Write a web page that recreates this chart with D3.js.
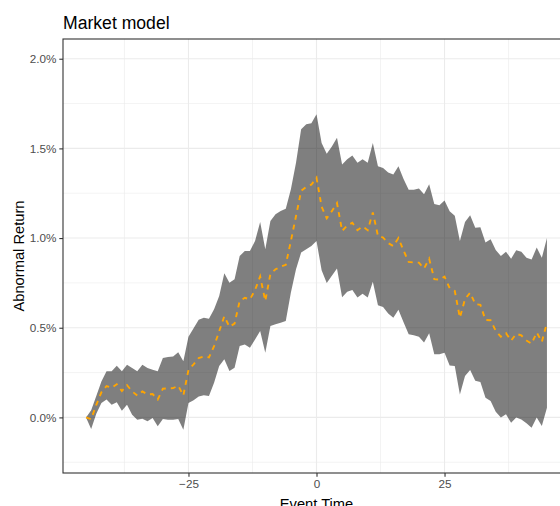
<!DOCTYPE html>
<html>
<head>
<meta charset="utf-8">
<script src="https://cdn.jsdelivr.net/npm/d3@7"></script>
<style>
  body { margin: 0; background: #fff; }
  svg { display: block; font-family: "Liberation Sans", Arial, sans-serif; }
</style>
</head>
<body>
<div id="chart"></div>
<script>
// event window, days relative to the event
const eventTime = [
  -45, -44, -43, -42, -41, -40, -39, -38, -37, -36, -35, -34, -33, -32, -31,
  -30, -29, -28, -27, -26, -25, -24, -23, -22, -21, -20, -19, -18, -17, -16,
  -15, -14, -13, -12, -11, -10, -9, -8, -7, -6, -5, -4, -3, -2, -1,
  0, 1, 2, 3, 4, 5, 6, 7, 8, 9, 10, 11, 12, 13, 14,
  15, 16, 17, 18, 19, 20, 21, 22, 23, 24, 25, 26, 27, 28, 29,
  30, 31, 32, 33, 34, 35, 36, 37, 38, 39, 40, 41, 42, 43, 44, 45
];

// cumulative abnormal return (%)
const carMean = [
  0.0, -0.01, 0.07, 0.14, 0.175, 0.165, 0.185, 0.147, 0.18, 0.145, 0.122, 0.145, 0.128, 0.13, 0.10,
  0.16, 0.162, 0.163, 0.177, 0.122, 0.265, 0.296, 0.331, 0.34, 0.334, 0.398, 0.48, 0.564, 0.505, 0.523,
  0.649, 0.667, 0.658, 0.71, 0.786, 0.649, 0.80, 0.826, 0.84, 0.851, 0.984, 1.123, 1.263, 1.286, 1.298,
  1.337, 1.175, 1.11, 1.15, 1.195, 1.04, 1.07, 1.085, 1.044, 1.065, 1.044, 1.143, 1.012, 1.003, 0.972,
  0.955, 1.0, 0.93, 0.867, 0.864, 0.863, 0.83, 0.885, 0.771, 0.768, 0.785, 0.72, 0.705, 0.556, 0.66,
  0.695, 0.632, 0.628, 0.543, 0.542, 0.483, 0.45, 0.47, 0.428, 0.466, 0.457, 0.429, 0.411, 0.474, 0.421, 0.527
];

// confidence band (%)
const ciLower = [
  0.0, -0.065, 0.02, 0.08, 0.10, 0.07, 0.084, 0.037, 0.07, 0.015, -0.013, -0.007, -0.022, -0.004, -0.05,
  -0.009, -0.013, -0.013, -0.009, -0.069, 0.08, 0.095, 0.117, 0.123, 0.119, 0.193, 0.286, 0.324, 0.259, 0.277,
  0.398, 0.407, 0.389, 0.435, 0.482, 0.361, 0.51, 0.519, 0.528, 0.538, 0.696, 0.826, 0.919, 0.9375, 0.956,
  0.984, 0.82, 0.75, 0.79, 0.83, 0.67, 0.70, 0.71, 0.668, 0.69, 0.668, 0.757, 0.625, 0.616, 0.58,
  0.556, 0.60, 0.53, 0.463, 0.458, 0.45, 0.417, 0.469, 0.352, 0.352, 0.361, 0.29, 0.286, 0.128, 0.231,
  0.264, 0.205, 0.197, 0.11, 0.091, 0.032, 0.0, 0.017, -0.03, 0.0, -0.011, -0.033, -0.058, 0.0, -0.048, 0.054
];

const ciUpper = [
  0.0, 0.04, 0.12, 0.20, 0.257, 0.257, 0.288, 0.257, 0.294, 0.275, 0.257, 0.294, 0.275, 0.266, 0.257,
  0.331, 0.337, 0.34, 0.363, 0.313, 0.45, 0.497, 0.545, 0.556, 0.55, 0.603, 0.677, 0.804, 0.751, 0.77,
  0.90, 0.928, 0.928, 0.984, 1.09, 0.9375, 1.095, 1.133, 1.151, 1.164, 1.272, 1.42, 1.607, 1.635, 1.64,
  1.69, 1.53, 1.47, 1.51, 1.56, 1.41, 1.44, 1.46, 1.42, 1.44, 1.42, 1.53, 1.40, 1.39, 1.365,
  1.355, 1.40, 1.33, 1.27, 1.27, 1.276, 1.244, 1.30, 1.19, 1.183, 1.21, 1.15, 1.124, 0.984, 1.09,
  1.127, 1.058, 1.06, 0.975, 0.993, 0.934, 0.90, 0.924, 0.885, 0.932, 0.924, 0.89, 0.88, 0.947, 0.89, 1.00
];

const xTicks = [-25, 0, 25];
const xMinor = [-37.5, -12.5, 12.5, 37.5];
const yTicks = [0, 0.5, 1, 1.5, 2];
const yMinor = [-0.25, 0.25, 0.75, 1.25, 1.75];

const width = 560;
const height = 506;
// panel runs past the right edge of the window, like the reference crop
const margin = { top: 39, right: -10, bottom: 33, left: 63 };

const svg = d3
  .select("#chart")
  .append("svg")
  .attr("width", width)
  .attr("height", height);

// ggplot style 5% expansion around the limits
const x = d3
  .scaleLinear()
  .domain([-45 - 4.5, 45 + 4.5])
  .range([margin.left, width - margin.right]);

const y = d3
  .scaleLinear()
  .domain([-0.2 - 0.11, 2.0 + 0.11])
  .range([height - margin.bottom, margin.top]);

const x0 = x.range()[0],
  x1 = x.range()[1],
  y0 = y.range()[0],
  y1 = y.range()[1];

// grid
const grid = svg.append("g");

grid
  .selectAll(".ymin")
  .data(yMinor)
  .enter()
  .append("line")
  .attr("x1", x0)
  .attr("x2", x1)
  .attr("y1", (d) => y(d))
  .attr("y2", (d) => y(d))
  .attr("stroke", "#EBEBEB")
  .attr("stroke-width", 0.6);

grid
  .selectAll(".xmin")
  .data(xMinor)
  .enter()
  .append("line")
  .attr("y1", y0)
  .attr("y2", y1)
  .attr("x1", (d) => x(d))
  .attr("x2", (d) => x(d))
  .attr("stroke", "#EBEBEB")
  .attr("stroke-width", 0.6);

grid
  .selectAll(".ymaj")
  .data(yTicks)
  .enter()
  .append("line")
  .attr("x1", x0)
  .attr("x2", x1)
  .attr("y1", (d) => y(d))
  .attr("y2", (d) => y(d))
  .attr("stroke", "#EBEBEB")
  .attr("stroke-width", 1.1);

grid
  .selectAll(".xmaj")
  .data(xTicks)
  .enter()
  .append("line")
  .attr("y1", y0)
  .attr("y2", y1)
  .attr("x1", (d) => x(d))
  .attr("x2", (d) => x(d))
  .attr("stroke", "#EBEBEB")
  .attr("stroke-width", 1.1);

const rows = eventTime.map((t, i) => ({
  t: t,
  mean: carMean[i],
  lo: ciLower[i],
  hi: ciUpper[i],
}));

// confidence ribbon
const band = d3
  .area()
  .x((d) => x(d.t))
  .y0((d) => y(d.lo))
  .y1((d) => y(d.hi));

svg
  .append("path")
  .datum(rows)
  .attr("d", band)
  .attr("fill", "#000")
  .attr("fill-opacity", 0.5);

// mean CAR, dashed
const line = d3
  .line()
  .x((d) => x(d.t))
  .y((d) => y(d.mean));

svg
  .append("path")
  .datum(rows)
  .attr("d", line)
  .attr("fill", "none")
  .attr("stroke", "orange")
  .attr("stroke-width", 1.9)
  .attr("stroke-dasharray", "5,5");

// panel border
svg
  .append("rect")
  .attr("x", x0)
  .attr("y", y1)
  .attr("width", x1 - x0)
  .attr("height", y0 - y1)
  .attr("fill", "none")
  .attr("stroke", "#333333")
  .attr("stroke-width", 1.1);

// axes
const xAxis = svg
  .append("g")
  .attr("transform", `translate(0,${y0})`)
  .call(d3.axisBottom(x).tickValues(xTicks).tickSize(3.7).tickPadding(2.5));

const yAxis = svg
  .append("g")
  .attr("transform", `translate(${x0},0)`)
  .call(
    d3
      .axisLeft(y)
      .tickValues(yTicks)
      .tickSize(3.7)
      .tickPadding(3)
      .tickFormat((d) => d.toFixed(1) + "%")
  );

[xAxis, yAxis].forEach((ax) => {
  ax.select(".domain").remove();
  ax.selectAll(".tick line").attr("stroke", "#333333").attr("stroke-width", 1.1);
  ax.selectAll(".tick text")
    .attr("fill", "#4D4D4D")
    .style("font-size", "11.7px")
    .style("font-family", "Liberation Sans, Arial, sans-serif");
});

// titles
svg
  .append("text")
  .attr("x", x0)
  .attr("y", 29)
  .style("font-size", "17.6px")
  .attr("fill", "#000")
  .text("Market model");

svg
  .append("text")
  .attr("text-anchor", "middle")
  .attr("transform", `translate(24,${(y0 + y1) / 2}) rotate(-90)`)
  .style("font-size", "14.7px")
  .attr("fill", "#000")
  .text("Abnormal Return");

svg
  .append("text")
  .attr("text-anchor", "middle")
  .attr("x", (x0 + x1) / 2)
  .attr("y", 509)
  .style("font-size", "14.7px")
  .attr("fill", "#000")
  .text("Event Time");
</script>
</body>
</html>
